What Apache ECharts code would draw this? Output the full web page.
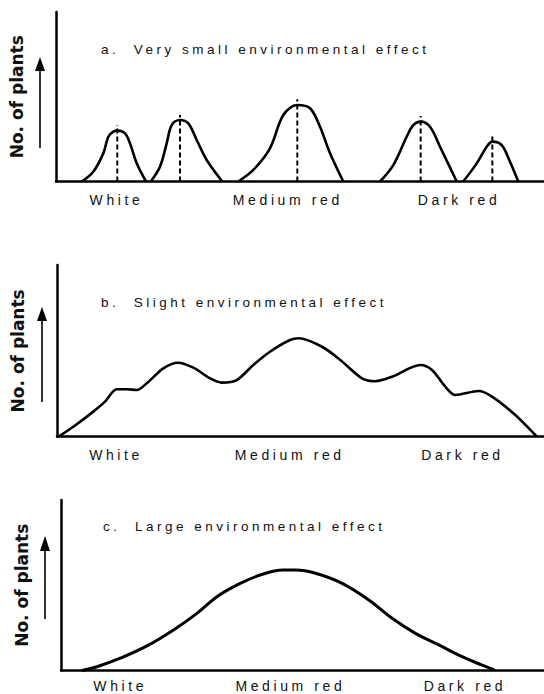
<!DOCTYPE html>
<html><head><meta charset="utf-8">
<script src="https://cdn.jsdelivr.net/npm/echarts@6/dist/echarts.min.js"></script>
<style>
html,body{margin:0;padding:0;background:#fff;}
#chart{width:544px;height:694px;}
#chart text{white-space:pre;}
#chart text[style*="14px"]{letter-spacing:3.6px;}
#chart text[style*="13.5px"]{letter-spacing:3.5px;}
</style></head><body><div id="chart"></div>
<script>
// ---------- data (x: flower colour scale 0-100, y: relative number of plants 0-100) ----------
const panelTitles = ['a.  Very small environmental effect', 'b.  Slight environmental effect', 'c.  Large environmental effect'];
const yAxisName = 'No. of plants';
const colourClasses = ['White', 'Medium red', 'Dark red'];
const labelPosA = [12.4, 47.5, 82.6];
const labelPosB = [12.3, 47.9, 83.3];
const labelPosC = [13.1, 48.0, 83.8];

// panel a: five separate genotype distributions
const peak1 = [[5.27,0],[7.64,5.8],[9.69,16.6],[10.72,26.4],[11.74,29.4],[12.56,30.0],[14.14,28.4],[15.16,22.5],[16.54,10.7],[18.44,0]];
const peak2 = [[19.41,0],[21.31,8.7],[22.68,22.5],[23.71,33.3],[25.41,36.3],[27.11,34.3],[28.83,24.5],[30.88,12.7],[34.08,0]];
const peak3 = [[37.36,0],[40.43,6.8],[43.85,19.6],[46.58,39.2],[49.45,45.1],[52.05,43.2],[54.10,32.3],[56.15,16.6],[58.87,0]];
const peak4 = [[66.39,0],[69.12,9.7],[71.86,26.4],[73.22,33.3],[74.73,35.3],[76.64,32.3],[78.69,20.5],[82.11,0]];
const peak5 = [[83.46,0],[86.21,10.7],[88.26,20.5],[89.41,23.5],[91.33,21.5],[93.03,11.7],[94.73,0]];
const peakMeans = [12.56, 25.41, 49.45, 74.73, 89.41];
const meanLineTops = [33.3, 39.2, 48.5, 38.6, 27.0];

// panel b: overlapping distributions
const slightCurve = [[0.47,0],[3.55,5.8],[7.64,14.6],[10.04,20.4],[12.44,27.6],[14.49,27.6],[16.54,27.2],[18.59,31.1],[21.99,39.8],[25.06,43.1],[28.14,40.2],[31.56,34.0],[33.95,31.5],[37.03,33.0],[40.43,41.8],[43.85,49.5],[47.95,56.3],[49.73,57.3],[54.51,52.4],[58.26,44.7],[62.70,34.0],[65.43,32.3],[68.85,34.9],[74.65,41.8],[77.05,38.9],[79.77,29.1],[81.82,24.3],[86.62,26.6],[89.34,23.3],[94.12,12.6],[98.22,1.0],[98.57,0]];

// panel c: one continuous distribution
const largeCurve = [[5.27,0],[8.34,2.2],[13.11,7.2],[18.59,14.4],[24.04,23.8],[28.83,33.5],[32.93,43.3],[37.03,50.1],[41.80,56.0],[46.58,58.9],[49.04,58.9],[53.14,57.0],[58.61,51.1],[64.08,41.3],[68.85,30.6],[73.63,21.8],[78.42,15.0],[83.20,8.1],[87.30,3.2],[89.34,0.9],[89.96,0]];

// ---------- chart ----------
const INK = '#111';
const FONT = 'Liberation Sans, Arial, sans-serif';
const grids = [
  {left: 56, right: 0, top: 12, height: 169.5},
  {left: 57, right: 0, top: 265, height: 171.7},
  {left: 61, right: 0, top: 500, height: 170.5}
];
const xMins = [0, 0.2, 0.96];
const labelPos = [labelPosA, labelPosB, labelPosC];
const labelMargins = [11.5, 11.3, 8.5];
const titleTops = [42.5, 295.5, 519];
const titleLefts = [101, 101, 103];

function labelFor(pos) {
  return function (v) {
    for (let i = 0; i < pos.length; i++) if (Math.abs(pos[i] - v) < 1e-6) return colourClasses[i];
    return '';
  };
}

const xAxes = grids.map((g, i) => ({
  type: 'value', gridIndex: i, min: xMins[i], max: 100,
  axisLine: {show: true, onZero: false, lineStyle: {color: '#000', width: 2.5}},
  axisTick: {show: false}, splitLine: {show: false},
  axisLabel: {show: true, customValues: labelPos[i], formatter: labelFor(labelPos[i]),
    margin: labelMargins[i], fontSize: 14, color: INK, fontFamily: FONT}
}));
const yAxes = grids.map((g, i) => ({
  type: 'value', gridIndex: i, min: 0, max: 100,
  axisLine: {show: true, onZero: false, lineStyle: {color: '#000', width: 2.5}},
  axisTick: {show: false}, splitLine: {show: false}, axisLabel: {show: false},
  name: yAxisName, nameLocation: 'middle', nameRotate: 90, nameGap: 31,
  nameTextStyle: {fontFamily: 'DejaVu Sans', fontWeight: 'bold', fontSize: 17, color: INK}
}));

const curveStyle = {color: '#000', width: 2.6};
const series = [];
[peak1, peak2, peak3, peak4, peak5].forEach(p => series.push({
  type: 'line', xAxisIndex: 0, yAxisIndex: 0, data: p, smooth: 0.35,
  showSymbol: false, lineStyle: curveStyle, silent: true
}));
peakMeans.forEach((m, i) => series.push({
  type: 'line', xAxisIndex: 0, yAxisIndex: 0, data: [[m, 0], [m, meanLineTops[i]]],
  showSymbol: false, silent: true,
  lineStyle: {color: '#000', width: 2, type: [5, 3]}
}));
series.push({type: 'line', xAxisIndex: 1, yAxisIndex: 1, data: slightCurve, smooth: 0.3,
  showSymbol: false, lineStyle: curveStyle, silent: true});
series.push({type: 'line', xAxisIndex: 2, yAxisIndex: 2, data: largeCurve, smooth: 0.4,
  showSymbol: false, lineStyle: {color: '#000', width: 3}, silent: true});

const arrows = [
  {x: 40, tip: 57, head: 70, tail: 148},
  {x: 42, tip: 307, head: 320, tail: 402},
  {x: 45, tip: 536, head: 550, tail: 619}
];
const graphic = [];
arrows.forEach(a => {
  graphic.push({type: 'line', shape: {x1: a.x, y1: a.tail, x2: a.x, y2: a.head}, style: {stroke: '#000', lineWidth: 1.6}});
  graphic.push({type: 'polygon', shape: {points: [[a.x - 5, a.head + 1], [a.x + 5, a.head + 1], [a.x, a.tip]]}, style: {fill: '#000'}});
});

const chart = echarts.init(document.getElementById('chart'), null, {renderer: 'svg'});
chart.setOption({
  animation: false,
  backgroundColor: '#fff',
  title: panelTitles.map((t, i) => ({
    text: t, left: titleLefts[i], top: titleTops[i], padding: 0,
    textStyle: {fontSize: 13.5, fontWeight: 'normal', color: INK, fontFamily: FONT}
  })),
  grid: grids,
  xAxis: xAxes,
  yAxis: yAxes,
  series: series,
  graphic: graphic
});
</script></body></html>
